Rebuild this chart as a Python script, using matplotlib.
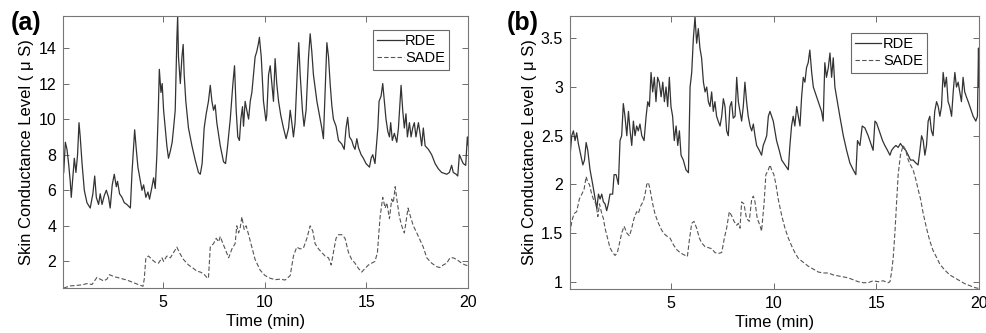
import matplotlib
matplotlib.use("Agg")
from matplotlib import pyplot as plt

plt.rcParams["font.family"] = ["Liberation Sans", "DejaVu Sans"]

# panel (a): skin conductance, minutes vs microsiemens
rde_a_t = [0.15, 0.23, 0.31, 0.39, 0.47, 0.52, 0.60, 0.67, 0.75, 0.83, 0.90, 0.96, 1.05, 1.16, 1.29,
           1.45, 1.58, 1.67, 1.75, 1.86, 1.94, 2.03, 2.14, 2.24, 2.35, 2.43, 2.53, 2.63, 2.73, 2.79,
           2.89, 3.01, 3.12, 3.25, 3.42, 3.50, 3.58, 3.63, 3.71, 3.79, 3.91, 3.99, 4.07, 4.18, 4.28,
           4.36, 4.48, 4.56, 4.64, 4.72, 4.79, 4.84, 4.92, 4.98, 5.05, 5.13, 5.21, 5.29, 5.38, 5.47,
           5.54, 5.62, 5.70, 5.74, 5.78, 5.87, 5.95, 6.01, 6.06, 6.14, 6.27, 6.44, 6.60, 6.76, 6.85,
           6.94, 7.04, 7.14, 7.25, 7.34, 7.42, 7.50, 7.58, 7.66, 7.83, 7.99, 8.09, 8.19, 8.32, 8.45,
           8.53, 8.61, 8.69, 8.77, 8.84, 8.92, 8.97, 9.05, 9.13, 9.22, 9.30, 9.38, 9.46, 9.54, 9.62,
           9.71, 9.75, 9.84, 9.95, 10.07, 10.11, 10.20, 10.28, 10.36, 10.44, 10.52, 10.60, 10.69,
           10.80, 10.93, 11.06, 11.18, 11.26, 11.34, 11.42, 11.50, 11.62, 11.68, 11.75, 11.86, 11.94,
           12.04, 12.16, 12.24, 12.32, 12.40, 12.48, 12.57, 12.65, 12.73, 12.81, 12.89, 12.97, 13.06,
           13.14, 13.22, 13.30, 13.38, 13.51, 13.63, 13.79, 13.91, 14.00, 14.08, 14.17, 14.28, 14.36,
           14.44, 14.53, 14.61, 14.74, 14.85, 14.98, 15.15, 15.23, 15.31, 15.42, 15.56, 15.62, 15.72,
           15.80, 15.88, 15.96, 16.05, 16.13, 16.19, 16.27, 16.37, 16.49, 16.57, 16.65, 16.70, 16.78,
           16.86, 16.94, 17.01, 17.11, 17.19, 17.27, 17.35, 17.43, 17.55, 17.63, 17.71, 17.79, 17.88,
           18.04, 18.20, 18.37, 18.53, 18.69, 18.94, 19.07, 19.18, 19.26, 19.40, 19.48, 19.56, 19.67,
           19.75, 19.87, 19.95, 20.00]
rde_a = [7.0, 8.7, 8.3, 7.5, 6.5, 5.6, 6.8, 7.8, 7.0, 8.0, 9.8, 9.0, 7.5, 6.0, 5.3,
         5.0, 5.8, 6.8, 5.6, 5.2, 5.8, 5.2, 5.7, 6.0, 5.6, 5.0, 6.3, 6.9, 6.2, 6.5,
         5.8, 5.6, 5.3, 5.2, 5.0, 7.0, 8.5, 9.4, 8.3, 7.3, 6.5, 6.0, 6.3, 5.6, 5.9,
         5.5, 6.2, 6.7, 6.1, 8.0, 10.5, 12.8, 11.5, 12.0, 10.5, 9.5, 8.5, 7.8, 8.2, 8.7,
         9.5, 10.5, 14.5, 15.8, 13.5, 12.0, 13.5, 14.2, 12.5, 11.0, 9.5, 8.5, 7.7, 7.0, 6.9,
         7.5, 9.5, 10.3, 11.0, 11.9, 11.0, 10.5, 10.8, 9.8, 8.5, 7.6, 7.5, 8.5, 10.0, 12.0,
         13.0, 10.5, 9.0, 8.8, 10.0, 10.7, 9.6, 11.0, 10.5, 10.0, 11.0, 11.5, 12.5, 13.5, 13.8,
         14.3, 14.6, 13.5, 11.0, 9.9, 10.2, 12.5, 13.0, 12.0, 11.0, 13.4, 12.0, 11.0,
         10.2, 9.5, 8.9, 9.5, 10.5, 9.8, 9.0, 9.8, 13.0, 14.3, 12.5, 10.5, 9.6,
         10.5, 13.5, 14.8, 13.8, 12.5, 11.8, 11.0, 10.5, 10.0, 9.5, 8.9, 11.5, 14.3,
         13.5, 12.0, 10.8, 10.0, 9.6, 8.8, 8.6, 8.3, 9.5, 10.1, 9.0, 8.8, 8.5,
         8.3, 8.9, 8.4, 8.0, 7.8, 7.5, 7.3, 7.8, 8.0, 7.5, 9.5, 11.0, 11.3,
         12.0, 11.0, 10.0, 9.3, 9.0, 9.8, 8.8, 9.2, 8.7, 9.5, 11.0, 11.9, 10.5,
         9.5, 10.3, 9.0, 9.8, 9.0, 9.5, 9.8, 9.0, 9.8, 9.2, 8.5, 9.5, 8.5,
         8.3, 8.0, 7.5, 7.2, 7.0, 6.9, 7.0, 7.4, 7.0, 6.9, 6.8, 8.0, 7.7,
         7.5, 7.4, 9.0, 8.5]

sade_a_t = [0.15, 0.47, 0.80, 1.05, 1.29, 1.54, 1.78, 1.94, 2.11, 2.27, 2.40, 2.60, 2.92, 3.25, 3.58,
            3.91, 4.04, 4.10, 4.18, 4.31, 4.48, 4.64, 4.80, 4.97, 5.05, 5.21, 5.38, 5.54, 5.70, 5.87,
            6.03, 6.27, 6.52, 6.68, 6.85, 7.01, 7.17, 7.25, 7.34, 7.50, 7.63, 7.75, 7.83, 7.96, 8.07,
            8.24, 8.40, 8.56, 8.64, 8.73, 8.81, 8.89, 9.00, 9.10, 9.22, 9.38, 9.54, 9.79, 10.03, 10.28,
            10.52, 10.77, 11.01, 11.26, 11.42, 11.58, 11.75, 11.91, 12.08, 12.24, 12.37, 12.48, 12.65,
            12.81, 12.97, 13.14, 13.27, 13.38, 13.51, 13.63, 13.79, 13.95, 14.12, 14.28, 14.44, 14.61,
            14.77, 14.93, 15.10, 15.26, 15.42, 15.54, 15.67, 15.80, 15.92, 16.00, 16.13, 16.24, 16.32,
            16.41, 16.49, 16.62, 16.73, 16.86, 16.94, 17.04, 17.14, 17.30, 17.47, 17.63, 17.79, 17.96,
            18.20, 18.45, 18.61, 18.77, 18.94, 19.10, 19.26, 19.43, 19.67, 19.84, 20.00]
sade_a = [0.50, 0.62, 0.65, 0.68, 0.75, 0.70, 1.10, 1.00, 0.90, 1.00, 1.25, 1.15, 1.05, 0.95, 0.80,
          0.65, 0.60, 1.00, 2.20, 2.30, 2.10, 1.95, 1.90, 2.20, 2.00, 2.30, 2.20, 2.50, 2.80, 2.40,
          2.10, 1.80, 1.60, 1.45, 1.40, 1.30, 1.10, 1.05, 2.80, 3.00, 3.30, 3.10, 3.40, 3.00, 2.70,
          2.20, 2.70, 3.00, 4.00, 3.60, 3.90, 4.50, 3.80, 4.00, 3.50, 2.80, 2.10, 1.50, 1.20, 1.05,
          0.97, 1.00, 0.95, 1.20, 2.30, 2.80, 2.70, 2.75, 3.30, 4.00, 3.70, 3.00, 2.70,
          2.50, 2.30, 2.20, 1.80, 2.50, 3.30, 3.50, 3.50, 3.30, 2.50, 2.10, 1.90, 1.60,
          1.40, 1.60, 1.80, 1.90, 2.00, 2.50, 4.50, 5.60, 5.00, 5.30, 4.40, 5.50, 5.30,
          6.20, 5.50, 4.50, 4.00, 3.60, 4.20, 5.00, 4.60, 4.00, 3.60, 3.20, 2.80, 2.20,
          1.90, 1.70, 1.65, 1.80, 1.90, 2.20, 2.20, 2.10, 1.90, 1.80, 1.75]

# panel (b)
rde_b_t = [0.09, 0.17, 0.25, 0.33, 0.41, 0.49, 0.61, 0.71, 0.79, 0.87, 0.95, 1.06, 1.19, 1.31, 1.39,
           1.47, 1.55, 1.63, 1.71, 1.79, 1.87, 1.95, 2.03, 2.16, 2.23, 2.33, 2.44, 2.52, 2.60, 2.68,
           2.76, 2.85, 2.93, 3.01, 3.09, 3.17, 3.25, 3.33, 3.41, 3.49, 3.58, 3.69, 3.79, 3.87, 3.95,
           4.03, 4.11, 4.19, 4.27, 4.35, 4.43, 4.52, 4.60, 4.68, 4.76, 4.84, 4.92, 5.00, 5.08, 5.16,
           5.25, 5.33, 5.41, 5.49, 5.60, 5.73, 5.85, 5.93, 6.01, 6.09, 6.17, 6.25, 6.33, 6.41, 6.49,
           6.58, 6.66, 6.74, 6.82, 6.90, 6.98, 7.06, 7.14, 7.22, 7.30, 7.39, 7.47, 7.55, 7.63, 7.71,
           7.79, 7.87, 7.95, 8.03, 8.12, 8.20, 8.28, 8.36, 8.44, 8.52, 8.60, 8.68, 8.76, 8.85, 8.93,
           9.01, 9.09, 9.17, 9.30, 9.41, 9.49, 9.58, 9.66, 9.74, 9.82, 9.90, 9.98, 10.06, 10.14, 10.27,
           10.39, 10.55, 10.71, 10.79, 10.87, 10.95, 11.03, 11.12, 11.20, 11.28, 11.36, 11.44, 11.52,
           11.60, 11.68, 11.76, 11.85, 11.93, 12.01, 12.09, 12.17, 12.25, 12.33, 12.41, 12.49, 12.57,
           12.66, 12.74, 12.82, 12.90, 12.98, 13.06, 13.14, 13.22, 13.39, 13.55, 13.71, 13.87, 14.00,
           14.08, 14.20, 14.31, 14.44, 14.60, 14.76, 14.84, 14.93, 15.01, 15.14, 15.30, 15.41, 15.54,
           15.66, 15.74, 15.85, 15.95, 16.06, 16.17, 16.30, 16.43, 16.55, 16.66, 16.79, 16.92, 17.03,
           17.12, 17.20, 17.28, 17.36, 17.44, 17.52, 17.60, 17.68, 17.76, 17.84, 17.93, 18.01, 18.09,
           18.17, 18.25, 18.33, 18.41, 18.49, 18.57, 18.66, 18.74, 18.82, 18.90, 18.98, 19.06, 19.14,
           19.22, 19.30, 19.38, 19.47, 19.55, 19.63, 19.71, 19.84, 19.92, 19.97, 20.00]
rde_b = [2.30, 2.50, 2.55, 2.45, 2.53, 2.42, 2.30, 2.20, 2.25, 2.43, 2.35, 2.15, 2.00, 1.85, 1.75,
         1.90, 1.85, 1.90, 1.82, 1.80, 1.73, 1.80, 1.90, 1.90, 2.10, 2.10, 2.00, 2.45, 2.50, 2.83,
         2.70, 2.50, 2.75, 2.55, 2.40, 2.65, 2.50, 2.60, 2.55, 2.62, 2.50, 2.45, 2.70, 2.85, 2.80,
         3.15, 2.95, 3.10, 2.85, 3.10, 3.05, 2.90, 3.05, 2.85, 3.00, 2.80, 3.10, 2.80, 2.70, 2.45,
         2.60, 2.40, 2.55, 2.30, 2.25, 2.15, 2.12, 3.00, 3.15, 3.50, 3.72, 3.45, 3.60, 3.40, 3.30,
         3.05, 2.95, 3.00, 2.85, 2.80, 2.95, 2.75, 2.85, 2.70, 2.65, 2.60, 2.70, 2.88, 2.80, 2.55,
         2.50, 2.80, 2.85, 2.68, 2.70, 3.10, 2.85, 2.75, 2.65, 2.80, 3.05, 2.85, 2.70, 2.60, 2.55,
         2.62, 2.50, 2.40, 2.35, 2.30, 2.40, 2.45, 2.50, 2.70, 2.75, 2.70, 2.65, 2.55, 2.45, 2.35,
         2.25, 2.20, 2.15, 2.40, 2.60, 2.70, 2.60, 2.80, 2.70, 2.60, 2.90, 3.10, 3.05,
         3.20, 3.25, 3.38, 3.15, 3.00, 2.95, 2.90, 2.85, 2.80, 2.75, 2.65, 3.25, 3.10,
         3.20, 3.35, 3.10, 3.30, 3.00, 2.90, 2.80, 2.70, 2.50, 2.35, 2.22, 2.15, 2.10,
         2.45, 2.40, 2.60, 2.58, 2.50, 2.40, 2.35, 2.65, 2.63, 2.55, 2.45, 2.40, 2.35,
         2.30, 2.35, 2.38, 2.40, 2.38, 2.42, 2.38, 2.35, 2.30, 2.25, 2.25, 2.22, 2.20,
         2.35, 2.50, 2.45, 2.30, 2.40, 2.65, 2.70, 2.55, 2.50, 2.75, 2.85, 2.80, 2.70,
         2.80, 3.15, 3.00, 3.10, 2.85, 2.80, 2.70, 2.95, 3.15, 3.00, 3.05, 2.95, 2.85,
         3.10, 2.95, 2.90, 2.85, 2.80, 2.75, 2.70, 2.65, 2.70, 3.40, 3.00]

sade_b_t = [0.09, 0.17, 0.28, 0.41, 0.54, 0.66, 0.77, 0.87, 0.95, 1.03, 1.14, 1.22, 1.35, 1.44, 1.52,
            1.63, 1.71, 1.79, 1.91, 2.03, 2.16, 2.28, 2.39, 2.52, 2.60, 2.72, 2.85, 2.98, 3.09, 3.20,
            3.33, 3.41, 3.53, 3.66, 3.74, 3.82, 3.90, 3.98, 4.11, 4.22, 4.35, 4.50, 4.63, 4.79, 4.95,
            5.12, 5.28, 5.44, 5.60, 5.80, 5.89, 6.01, 6.12, 6.25, 6.38, 6.49, 6.66, 6.82, 6.98, 7.14,
            7.30, 7.47, 7.60, 7.71, 7.84, 7.95, 8.07, 8.20, 8.28, 8.36, 8.44, 8.55, 8.68, 8.81, 8.93,
            9.01, 9.09, 9.20, 9.33, 9.41, 9.53, 9.62, 9.74, 9.82, 9.90, 10.01, 10.11, 10.22, 10.39,
            10.55, 10.71, 10.87, 11.03, 11.20, 11.44, 11.68, 11.93, 12.17, 12.41, 12.66, 12.90, 13.14,
            13.39, 13.63, 13.87, 14.12, 14.36, 14.60, 14.84, 15.09, 15.33, 15.57, 15.66, 15.74, 15.82,
            15.90, 15.98, 16.06, 16.17, 16.30, 16.43, 16.55, 16.66, 16.79, 16.92, 17.03, 17.15, 17.28,
            17.44, 17.60, 17.76, 17.93, 18.09, 18.33, 18.57, 18.82, 19.06, 19.30, 19.55, 19.79, 20.00]
sade_b = [1.50, 1.62, 1.70, 1.72, 1.85, 1.90, 1.95, 2.08, 2.02, 2.00, 1.90, 1.85, 1.80, 1.67, 1.80,
          1.70, 1.65, 1.55, 1.45, 1.35, 1.30, 1.27, 1.30, 1.42, 1.50, 1.57, 1.50, 1.47, 1.55, 1.65,
          1.72, 1.70, 1.78, 1.83, 1.90, 2.00, 2.02, 1.95, 1.80, 1.70, 1.62, 1.55, 1.50, 1.47, 1.45,
          1.38, 1.33, 1.30, 1.28, 1.26, 1.42, 1.60, 1.62, 1.55, 1.45, 1.40, 1.36, 1.35, 1.34, 1.30,
          1.29, 1.30, 1.45, 1.55, 1.72, 1.68, 1.62, 1.58, 1.60, 1.55, 1.82, 1.80, 1.65, 1.62, 1.85,
          1.88, 1.82, 1.65, 1.58, 1.52, 1.80, 2.10, 2.15, 2.20, 2.15, 2.10, 2.00, 1.85, 1.68,
          1.55, 1.45, 1.37, 1.30, 1.24, 1.20, 1.16, 1.13, 1.10, 1.09, 1.09, 1.07, 1.06,
          1.05, 1.04, 1.02, 1.00, 0.99, 0.99, 1.01, 1.00, 1.01, 0.99, 1.00, 1.10, 1.25,
          1.50, 1.80, 2.10, 2.30, 2.40, 2.35, 2.25, 2.20, 2.15, 2.05, 1.95, 1.85, 1.70,
          1.55, 1.42, 1.32, 1.25, 1.18, 1.12, 1.07, 1.04, 1.01, 0.98, 0.96, 0.94, 0.93]

xticks = [5, 10, 15, 20]
yticks_a = [2, 4, 6, 8, 10, 12, 14]
yticks_b = [1, 1.5, 2, 2.5, 3, 3.5]
yticklabels_b = ["1", "1.5", "2", "2.5", "3", "3.5"]
ylabel = "Skin Conductance Level ( \u03bc S)"

fig = plt.figure(figsize=(9.86, 3.33), dpi=100)
ax_a = fig.add_axes([0.064, 0.135, 0.411, 0.817])
ax_b = fig.add_axes([0.578, 0.132, 0.415, 0.820])

line_col = "#333333"
panels = [
    (ax_a, rde_a_t, rde_a, sade_a_t, sade_a, (0.12, 20), (0.5, 15.8), yticks_a, None,
     "(a)", -0.128, (0.953, 0.949)),
    (ax_b, rde_b_t, rde_b, sade_b_t, sade_b, (0.08, 20), (0.925, 3.73), yticks_b, yticklabels_b,
     "(b)", -0.155, (0.873, 0.938)),
]
for ax, t1, y1, t2, y2, xl, yl, yt, ytl, tag, tag_x, leg_pos in panels:
    ax.plot(t1, y1, color=line_col, lw=0.9, label="RDE")
    ax.plot(t2, y2, color="#555555", lw=0.8, ls=(0, (4, 2)), label="SADE")
    ax.set_xlim(*xl)
    ax.set_ylim(*yl)
    ax.set_xticks(xticks)
    ax.set_yticks(yt)
    if ytl:
        ax.set_yticklabels(ytl)
    ax.tick_params(direction="in", top=True, right=True, length=4, width=0.6,
                   color="#555555", labelsize=11.5, pad=5)
    for sp in ax.spines.values():
        sp.set_color("#777777")
        sp.set_linewidth(0.8)
    ax.set_xlabel("Time (min)", fontsize=12, labelpad=3)
    ax.set_ylabel(ylabel, fontsize=12, labelpad=3)
    leg = ax.legend(loc="upper right", bbox_to_anchor=leg_pos, fontsize=10.5, frameon=True,
                    fancybox=False, handlelength=1.8, handletextpad=0.1, borderpad=0.3,
                    labelspacing=0.2, borderaxespad=0)
    leg.get_frame().set_edgecolor("#444444")
    leg.get_frame().set_linewidth(0.8)
    ax.text(tag_x, 0.975, tag, transform=ax.transAxes, fontsize=18, fontweight="bold",
            ha="left", va="center")

fig.savefig("out.png", dpi=100)
